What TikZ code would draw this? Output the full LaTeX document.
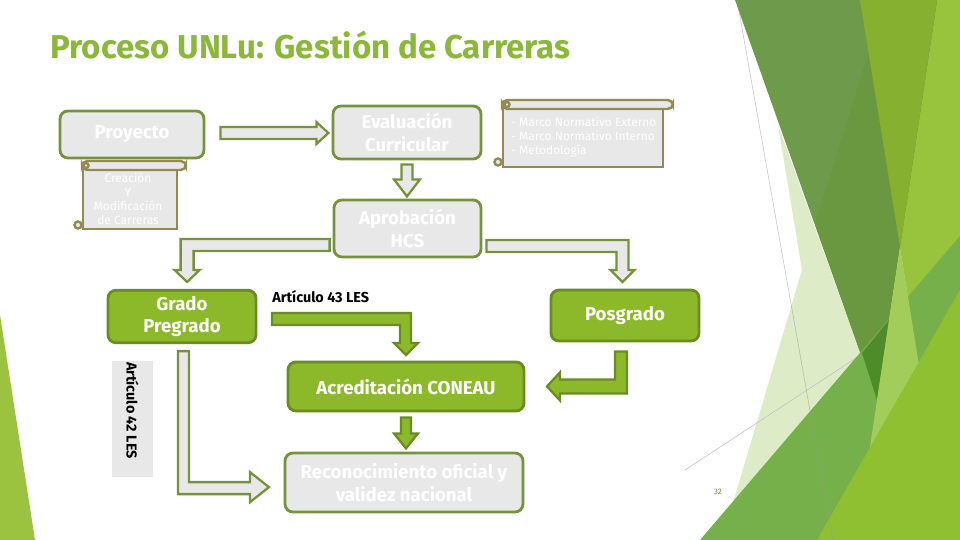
\documentclass[tikz,border=0pt]{standalone}
\usepackage{fontspec}
\setmainfont{Fira Sans}
\usepackage{tikz}
\usetikzlibrary{calc}
\definecolor{UNGreen}{HTML}{8BB73B}
\definecolor{UNLine}{HTML}{76923C}
\definecolor{UNGray}{HTML}{E8E8E8}
\definecolor{UNFill}{HTML}{8CB92A}
\definecolor{UNDark}{HTML}{6A8C24}
\definecolor{UNScroll}{HTML}{948A54}
\definecolor{FacPale}{HTML}{DDEBC6}
\definecolor{FacDark}{HTML}{6E9A4C}
\definecolor{FacDarkB}{HTML}{699841}
\definecolor{FacMid}{HTML}{86B030}
\definecolor{FacLight}{HTML}{98C43D}
\definecolor{FacBand}{HTML}{A3CD5A}
\definecolor{FacLeaf}{HTML}{75B04A}
\definecolor{FacDeep}{HTML}{4E8C2A}
\definecolor{FacLime}{HTML}{8FC031}
\definecolor{FacStrip}{HTML}{9BC33F}

\tikzset{
  graybox/.style={draw=UNLine,fill=UNGray,line width=1.6pt,rounded corners=4.5pt,
    text=white,align=center,font=\fontsize{10.6}{12.8}\selectfont\bfseries},
  greenbox/.style={graybox,draw=UNDark,fill=UNFill},
  grayarrow/.style={draw=UNLine,fill=UNGray,line width=1.3pt},
  greenarrow/.style={draw=UNDark,fill=UNFill,line width=1.3pt},
  scrollpart/.style={draw=UNScroll,fill=UNGray,line width=1.4pt},
  scrolltext/.style={text=white,font=\fontsize{6.8}{7.9}\selectfont},
  lestext/.style={font=\fontsize{8.2}{9}\selectfont\bfseries}
}

\begin{document}
\begin{tikzpicture}[x=0.02cm,y=-0.02cm]
\path[use as bounding box] (0,0) rectangle (960,540);
\fill[white] (0,0) rectangle (960,540);

% facet background
\fill[FacPale] (778,125) -- (802,270) -- (722,540) -- (870,540) -- (877,400) -- cycle;
\draw[black!25,line width=.3pt] (685,470) -- (960,290);
\fill[FacLight] (860,0) -- (960,0) -- (960,540) -- (947,540) -- cycle;
\fill[FacDark] (735,0) -- (937,0) -- (877,400) -- cycle;
\fill[FacDarkB] (885,0) -- (937,0) -- (877,400) -- (815,224) -- cycle;
\fill[FacMid] (860,0) -- (937,0) -- (900,247) -- cycle;
\fill[FacLeaf] (700,540) -- (960,236) -- (960,540) -- cycle;
\fill[FacDeep] (862,353) -- (889,320) -- (877,400) -- cycle;
\fill[FacBand] (900,247) -- (856,540) -- (947,540) -- cycle;
\fill[FacLime] (817,540) -- (960,290) -- (960,540) -- cycle;
\draw[black!40,line width=.3pt,opacity=.6] (737,0) -- (833,540);
\fill[FacStrip] (0,315) -- (0,540) -- (35,540) -- cycle;

% title
\node[anchor=base west,inner sep=0pt,text=UNGreen,font=\fontsize{18.8}{22}\selectfont\bfseries] (title)
  at (50,59) {Proceso UNLu: Gestión de Carreras};

% boxes
\node[graybox,minimum width=2.88cm,minimum height=0.94cm] (proyecto) at (132,134.5) {Proyecto};
\node[graybox,minimum width=2.96cm,minimum height=1.06cm] (eval) at (407,132.5) {Evaluación\\Curricular};
\node[graybox,minimum width=2.94cm,minimum height=1.14cm] (aprob) at (407.5,228.5) {Aprobación\\HCS};
\node[greenbox,minimum width=2.96cm,minimum height=1.02cm] (grado) at (182,316.5) {Grado\\Pregrado};
\node[greenbox,minimum width=2.96cm,minimum height=1.02cm] (posgrado) at (625,315.5) {Posgrado};
\node[greenbox,minimum width=4.72cm,minimum height=0.98cm] (acred) at (406,386.5) {Acreditación CONEAU};
\node[graybox,minimum width=4.76cm,minimum height=1.18cm] (recon) at (404,482.5) {Reconocimiento oficial y\\validez nacional};

% scrolls
\draw[scrollpart] (83,166) rectangle (177,229);
\draw[scrollpart,rounded corners=3pt] (82,161) rectangle (186,170);
\draw[scrollpart] (86,165.5) circle (0.05cm);
\draw[scrollpart] (78,225) circle (0.07cm);
\node[scrolltext,align=center] (crea) at (128,199) {Creación\\Y\\Modificación\\de Carreras};

\draw[scrollpart] (503,105) rectangle (663,167);
\draw[scrollpart,rounded corners=3pt] (502,100) rectangle (673,109);
\draw[scrollpart] (507,104.5) circle (0.05cm);
\draw[scrollpart] (498,162) circle (0.07cm);
\node[scrolltext,align=left,anchor=west] (marco) at (505,137)
  {- Marco Normativo Externo\\- Marco Normativo Interno\\- Metodología};

% LES labels
\node[fill=UNGray,minimum width=0.82cm,minimum height=2.32cm] (art42box) at (132.5,419) {};
\node[lestext,rotate=-90,anchor=west,inner sep=0pt] (art42) at ($(art42box.north)+(0,1)$) {Artículo 42 LES};
\node[lestext,anchor=west,inner sep=0pt] (art43) at (272,297) {Artículo 43 LES};

% arrows
\draw[grayarrow] ($(proyecto.east)+(15,-7.5)$) -- ++(96,0) -- ++(0,-5) -- ++(12,11)
  -- ++(-12,11) -- ++(0,-5) -- ++(-96,0) -- cycle;
\draw[grayarrow] ($(eval.south)+(-5.5,4)$) -- ++(11,0) -- ++(0,15) -- ++(7.5,0)
  -- ++(-13,17) -- ++(-13,-17) -- ++(7.5,0) -- cycle;
\draw[grayarrow] ($(aprob.west)+(-3,10.5)$) -- ++(-149,0) -- ++(0,31) -- ++(-6,0)
  -- ++(12.5,12) -- ++(12.5,-12) -- ++(-6,0) -- ++(0,-19) -- ++(136,0) -- cycle;
\draw[grayarrow] ($(aprob.east)+(4,11.5)$) -- ++(142,0) -- ++(0,30) -- ++(6,0)
  -- ++(-12,12) -- ++(-12,-12) -- ++(6,0) -- ++(0,-18) -- ++(-130,0) -- cycle;
\draw[greenarrow] ($(art43.west)+(0,16)$) -- ++(139,0) -- ++(0,30) -- ++(7,0)
  -- ++(-12,12) -- ++(-12,-12) -- ++(6,0) -- ++(0,-18) -- ++(-128,0) -- cycle;
\draw[greenarrow] ($(acred.south)+(-5,5)$) -- ++(10,0) -- ++(0,16) -- ++(7,0)
  -- ++(-12,15) -- ++(-12,-15) -- ++(7,0) -- cycle;
\draw[greenarrow] ($(posgrado.south)+(-10,9)$) -- ++(12,0) -- ++(0,42) -- ++(-67,0)
  -- ++(0,7) -- ++(-13,-14) -- ++(13,-14) -- ++(0,7) -- ++(55,0) -- cycle;
\draw[grayarrow] ($(grado.south)+(-4,7)$) -- ++(11,0) -- ++(0,131) -- ++(61,0)
  -- ++(0,-10) -- ++(19,15) -- ++(-19,15) -- ++(0,-8) -- ++(-72,0) -- cycle;

\node[text=UNDark,font=\fontsize{4.5}{5}\selectfont] (pnum) at (718,492) {32};
\end{tikzpicture}
\end{document}
